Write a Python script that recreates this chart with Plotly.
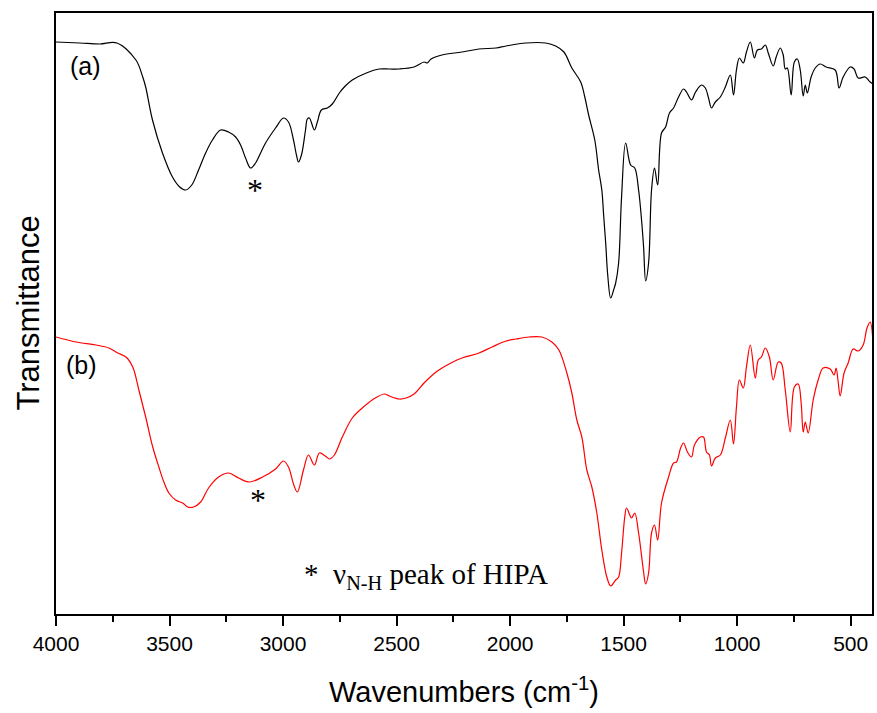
import plotly.graph_objects as go

# ---- data (transmittance in arbitrary units) ----
wn_a = [4000, 3895, 3807, 3732, 3648, 3618, 3605, 3575, 3531, 3487, 3455, 3429, 3402, 3372,
        3341, 3311, 3275, 3240, 3209, 3187, 3165, 3143, 3121, 3099, 3077, 3033, 2998, 2976,
        2954, 2941, 2932, 2919, 2901, 2893, 2884, 2862, 2849, 2831, 2805, 2783, 2752, 2726,
        2695, 2633, 2576, 2532, 2488, 2423, 2379, 2365, 2348, 2300, 2212, 2137, 2062, 2018,
        1930, 1843, 1799, 1763, 1728, 1689, 1671, 1654, 1627, 1610, 1596, 1588, 1579, 1570,
        1557, 1544, 1535, 1522, 1509, 1491, 1469, 1451, 1434, 1421, 1412, 1403, 1390, 1377,
        1364, 1350, 1333, 1315, 1298, 1280, 1258, 1236, 1223, 1201, 1183, 1157, 1140, 1126,
        1113, 1096, 1074, 1052, 1030, 1016, 1003, 990, 973, 959, 942, 924, 911, 893, 876,
        863, 841, 828, 810, 797, 788, 779, 762, 748, 735, 722, 709, 700, 691, 674, 656, 634,
        608, 568, 551, 533, 502, 485, 467, 436, 414, 401]
t_a = [572, 571, 570, 571, 554, 537, 527, 494, 461, 437, 427, 424, 429, 444,
       461, 474, 484, 482, 477, 469, 456, 446, 451, 461, 471, 486, 496, 492,
       474, 459, 452, 459, 484, 495, 496, 484, 492, 504, 506, 510, 521, 528,
       534, 541, 545, 545, 545, 547, 552, 551, 555, 559, 562, 565, 566, 568,
       571, 571, 568, 562, 546, 532, 517, 499, 474, 444, 424, 399, 371, 339,
       316, 324, 331, 351, 417, 471, 449, 446, 424, 394, 367, 333, 351, 424,
       446, 429, 481, 487, 501, 506, 517, 525, 522, 514, 522, 529, 526, 516,
       506, 512, 517, 527, 539, 519, 544, 556, 551, 562, 572, 556, 564, 565, 569,
       561, 548, 557, 566, 559, 545, 546, 519, 552, 555, 544, 518, 529, 521, 537, 546, 550,
       547, 544, 526, 537, 547, 545, 536, 537, 532, 530]

wn_b = [4000, 3912, 3824, 3767, 3728, 3692, 3662, 3635, 3605, 3574, 3547, 3525, 3503, 3473,
        3442, 3420, 3394, 3363, 3328, 3284, 3240, 3196, 3148, 3090, 3033, 2998, 2976, 2954,
        2937, 2910, 2888, 2862, 2840, 2814, 2796, 2774, 2739, 2695, 2651, 2607, 2554, 2532,
        2488, 2458, 2423, 2379, 2326, 2300, 2260, 2212, 2137, 2080, 2018, 1974, 1917, 1860,
        1816, 1785, 1750, 1728, 1706, 1684, 1662, 1640, 1618, 1596, 1574, 1557, 1535, 1522,
        1509, 1495, 1487, 1465, 1451, 1434, 1412, 1403, 1390, 1377, 1364, 1350, 1333, 1302,
        1280, 1267, 1249, 1236, 1219, 1201, 1188, 1161, 1148, 1135, 1122, 1113, 1096, 1074,
        1052, 1030, 1016, 1003, 990, 973, 959, 942, 920, 907, 893, 876, 858, 841, 819, 806,
        788, 766, 748, 731, 718, 709, 700, 687, 665, 643, 621, 590, 573, 564, 555, 546, 529,
        511, 489, 467, 445, 428, 414, 401]
t_b = [277, 272, 269, 266, 261, 257, 247, 224, 197, 167, 147, 132, 121, 114,
       111, 107, 107, 112, 126, 137, 141, 136, 132, 137, 145, 153, 147, 130,
       122, 144, 159, 149, 161, 158, 155, 159, 177, 196, 206, 214, 220, 218,
       215, 216, 220, 231, 242, 246, 251, 256, 261, 267, 273, 275, 277, 277,
       272, 264, 241, 221, 194, 177, 144, 127, 101, 64, 37, 28, 34, 37,
       61, 97, 106, 96, 101, 81, 42, 30, 41, 81, 89, 74, 111, 137,
       151, 152, 166, 171, 162, 157, 169, 177, 177, 162, 159, 148, 156, 159,
       176, 194, 170, 207, 234, 226, 247, 269, 236, 254, 257, 266, 257, 234, 252, 251,
       224, 182, 227, 230, 211, 182, 192, 181, 214, 234, 246, 245, 239, 246, 232, 218, 241,
       251, 265, 263, 269, 286, 292, 269]

x_ticks = [4000, 3500, 3000, 2500, 2000, 1500, 1000, 500]
x_tick_labels = ["4000", "3500", "3000", "2500", "2000", "1500", "1000", "500"]

label_a = "(a)"
label_b = "(b)"
star_a_pos = (3123, 444)
star_b_pos = (3112, 134)
note_text = "*  \u03bd<sub>N-H</sub> peak of HIPA"
note_pos = (2915, 38)

fig = go.Figure()
fig.add_trace(go.Scatter(x=wn_a, y=t_a, mode="lines", line=dict(color="black", width=1.2),
                         line_shape="spline", showlegend=False, name="(a)"))
fig.add_trace(go.Scatter(x=wn_b, y=t_b, mode="lines", line=dict(color="red", width=1.2),
                         line_shape="spline", showlegend=False, name="(b)"))

sans = "Liberation Sans, Arial, sans-serif"
narrow = "Liberation Sans Narrow, Arial Narrow, Liberation Sans, sans-serif"
serif = "Liberation Serif, Times New Roman, serif"

fig.add_annotation(x=3947, y=548, text=label_a, showarrow=False, xanchor="left",
                   font=dict(family=sans, size=25, color="black"))
fig.add_annotation(x=3965, y=249, text=label_b, showarrow=False, xanchor="left",
                   font=dict(family=sans, size=25, color="black"))
fig.add_annotation(x=star_a_pos[0], y=star_a_pos[1], text="*", showarrow=False,
                   yanchor="top", font=dict(family=serif, size=32, color="black"))
fig.add_annotation(x=star_b_pos[0], y=star_b_pos[1], text="*", showarrow=False,
                   yanchor="top", font=dict(family=serif, size=32, color="black"))
fig.add_annotation(x=note_pos[0], y=note_pos[1], text=note_text, showarrow=False,
                   xanchor="left", yanchor="middle", font=dict(family=serif, size=29, color="black"))

fig.add_annotation(xref="paper", yref="paper", x=0.5, y=0, yshift=-76,
                   xanchor="center", yanchor="middle",
                   text="Wavenumbers (cm<sup>-1</sup>)", showarrow=False,
                   font=dict(family=narrow, size=29, color="black"))
fig.add_annotation(xref="paper", yref="paper", x=0, y=0.5, xshift=-28,
                   xanchor="center", yanchor="middle",
                   text="Transmittance", textangle=-90, showarrow=False,
                   font=dict(family=sans, size=31, color="black"))

fig.update_xaxes(range=[4000, 406], tickvals=x_ticks, ticktext=x_tick_labels,
                 ticks="outside", ticklen=10, tickwidth=2, tickcolor="black",
                 minor=dict(dtick=250, tick0=0, ticks="outside", ticklen=6, tickwidth=2, tickcolor="black"),
                 showline=True, linewidth=2, linecolor="black", mirror=True,
                 showgrid=False, zeroline=False,
                 tickfont=dict(family=narrow, size=21, color="black"))
fig.update_yaxes(range=[0, 601], showticklabels=False, ticks="",
                 showline=True, linewidth=2, linecolor="black", mirror=True,
                 showgrid=False, zeroline=False)

fig.update_layout(width=877, height=713, margin=dict(l=56, r=3, t=13, b=99),
                  paper_bgcolor="white", plot_bgcolor="white")

# remove the browser's default 8px body margin so the figure fills the window exactly
fig.write_html("out.html", config={"displayModeBar": False},
               post_script="document.body.style.margin='0';document.body.style.overflow='hidden';")
